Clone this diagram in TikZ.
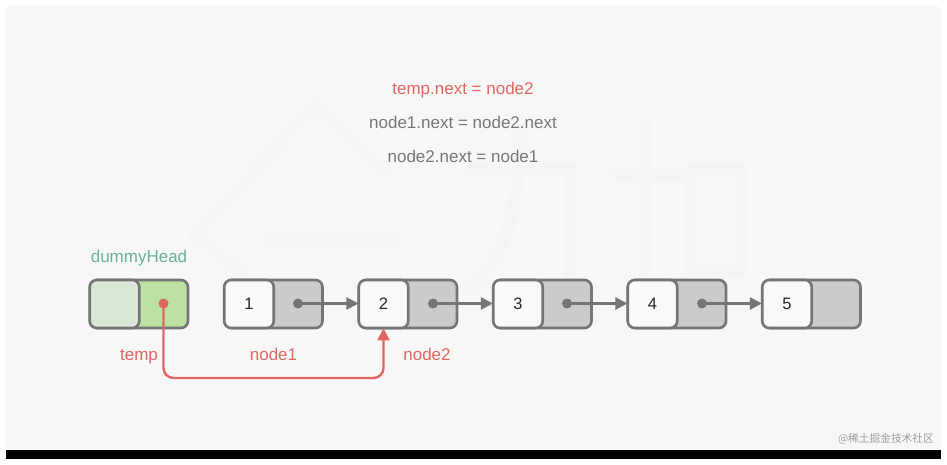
\documentclass[tikz,border=0pt]{standalone}
\usepackage{fontspec}
\setmainfont{Liberation Sans}
\newfontfamily\cjkf{Noto Sans CJK SC}
\usetikzlibrary{arrows.meta,calc}
\definecolor{panel}{HTML}{F7F7F7}
\definecolor{wm}{HTML}{F5F5F5}
\definecolor{edge}{HTML}{757575}
\definecolor{redc}{HTML}{E06661}
\definecolor{grayfill}{HTML}{CBCBCB}
\definecolor{cellw}{HTML}{F9F9F9}
\definecolor{greenl}{HTML}{DAE8D6}
\definecolor{greend}{HTML}{BDE0A3}
\definecolor{teal}{HTML}{6BB09A}
\definecolor{txtgray}{HTML}{777777}
\tikzset{
 x=1pt,y=-1pt,
 outer/.style={draw=edge,line width=2.6pt,rounded corners=7pt,minimum width=98pt,minimum height=48pt,inner sep=0pt,fill=grayfill},
 inner/.style={draw=edge,line width=2.6pt,rounded corners=7pt,minimum width=49.5pt,minimum height=48pt,inner sep=0pt,fill=cellw,text=black!85,font=\fontsize{16.5}{18}\selectfont},
 lbl/.style={font=\fontsize{17}{20}\selectfont,inner sep=0pt,anchor=base},
 pdot/.style={circle,fill=edge,minimum size=10pt,inner sep=0pt},
 rdot/.style={circle,fill=redc,minimum size=10pt,inner sep=0pt},
 link/.style={draw=edge,line width=2.2pt,shorten >=-1pt,-{Triangle[length=12pt,width=12pt]}},
 watermark/.style={draw=wm,line width=13pt,line cap=round,line join=round},
}
\begin{document}
\begin{tikzpicture}
\useasboundingbox (0,0) rectangle (947,465);
\fill[white] (0,0) rectangle (947,465);
\fill[panel,rounded corners=6pt] (6,6) rectangle (941,452);
\fill[black] (6,450) rectangle (941,459);
% watermark
\draw[watermark] (195,235) -- (315,105) -- (385,170);
\draw[watermark] (265,240) -- (395,240);
\draw[watermark] (195,235) -- (245,275);
\draw[watermark] (470,170) -- (570,170) -- (570,290);
\draw[watermark] (520,130) .. controls (520,220) and (500,260) .. (470,290);
\draw[watermark] (615,175) -- (680,175);
\draw[watermark] (645,125) -- (645,290);
\draw[watermark] (690,170) -- (740,170) -- (740,270) -- (690,270) -- cycle;
% text
\node[lbl,text=redc] (t1) at (463,94.5) {temp.next = node2};
\node[lbl,text=txtgray] (t2) at (463,128.5) {node1.next = node2.next};
\node[lbl,text=txtgray] (t3) at (463,162.5) {node2.next = node1};
\node[lbl,text=teal] (dh) at (139,262.5) {dummyHead};
% dummy head
\node[outer,fill=greend] (d) at (139,304) {};
\node[inner,fill=greenl] (d0) at (114.5,304) {};
% list nodes
\node[outer] (n1) at (273.5,304) {};
\node[inner] (a1) at (249,304) {1};
\node[outer] (n2) at (408,304) {};
\node[inner] (a2) at (383.5,304) {2};
\node[outer] (n3) at (542.5,304) {};
\node[inner] (a3) at (518,304) {3};
\node[outer] (n4) at (677,304) {};
\node[inner] (a4) at (652.5,304) {4};
\node[outer] (n5) at (811.5,304) {};
\node[inner] (a5) at (787,304) {5};
% pointer dots
\node[pdot] (p1) at (298,303.5) {};
\node[pdot] (p2) at (433,303.5) {};
\node[pdot] (p3) at (567,303.5) {};
\node[pdot] (p4) at (702,303.5) {};
\node[rdot] (rd) at (163.5,303.5) {};
% connectors
\draw[link] (p1.center) -- (p1.center -| a2.west);
\draw[link] (p2.center) -- (p2.center -| a3.west);
\draw[link] (p3.center) -- (p3.center -| a4.west);
\draw[link] (p4.center) -- (p4.center -| a5.west);
\draw[draw=redc,line width=2.4pt,rounded corners=10pt,shorten >=-1pt,-{Triangle[length=12pt,width=12pt]}]
  (rd.center) -- (163.5,378) -- (383.5,378) -- (a2.south);
% labels
\node[lbl,text=redc] (lt) at (139,360) {temp};
\node[lbl,text=redc] (l1) at (273.5,360) {node1};
\node[lbl,text=redc] (l2) at (427,360) {node2};
\node[font=\cjkf\fontsize{10.7}{12}\selectfont,text=black!38,anchor=east,inner sep=0pt] (wmk) at (934,439) {@稀土掘金技术社区};
\end{tikzpicture}
\end{document}
